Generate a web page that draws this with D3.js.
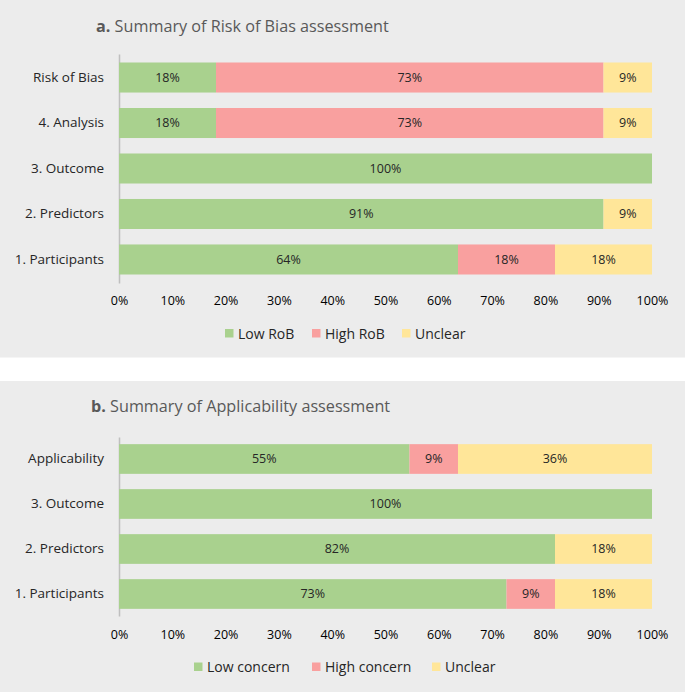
<!DOCTYPE html>
<html>
<head>
<meta charset="utf-8">
<script src="https://cdn.jsdelivr.net/npm/d3@7"></script>
<style>
  html, body { margin: 0; padding: 0; background: #ffffff; }
  svg { display: block; font-family: "Open Sans", sans-serif; }
</style>
</head>
<body>
<svg id="chart" width="685" height="692"></svg>
<script>
// ---- Data ----
const seriesKeys = ["low", "high", "unclear"];
const colors = ["#a9d18e", "#f9a09f", "#ffe699"];

const categoriesA = ["Risk of Bias", "4. Analysis", "3. Outcome", "2. Predictors", "1. Participants"];
const lowA = [18.2, 18.2, 100, 90.9, 63.6];
const highA = [72.7, 72.7, 0, 0, 18.2];
const unclearA = [9.1, 9.1, 0, 9.1, 18.2];
const legendA = ["Low RoB", "High RoB", "Unclear"];

const categoriesB = ["Applicability", "3. Outcome", "2. Predictors", "1. Participants"];
const lowB = [54.5, 100, 81.8, 72.7];
const highB = [9.1, 0, 0, 9.1];
const unclearB = [36.4, 0, 18.2, 18.2];
const legendB = ["Low concern", "High concern", "Unclear"];

const tickValues = [0, 10, 20, 30, 40, 50, 60, 70, 80, 90, 100];

// ---- Drawing ----
const svg = d3.select("#chart");

function panel(cfg) {
  const g = svg.append("g");
  g.append("rect").attr("x", 0).attr("y", cfg.bgTop).attr("width", 685)
    .attr("height", cfg.bgBottom - cfg.bgTop).attr("fill", "#ececec");

  const title = g.append("text").attr("x", cfg.titleX).attr("y", cfg.titleY)
    .attr("font-size", 16.2).attr("fill", "#595959");
  title.append("tspan").attr("font-weight", "bold").text(cfg.letter);
  title.append("tspan").text(" " + cfg.title);

  const rows = cfg.categories.map((c, i) => ({
    cat: c, low: cfg.low[i], high: cfg.high[i], unclear: cfg.unclear[i]
  }));

  const x = d3.scaleLinear().domain([0, 100]).range([119, 652]);
  const y = d3.scaleBand().domain(cfg.categories).range([cfg.axisTop, cfg.axisBottom])
    .paddingInner(0.34).paddingOuter(cfg.padOuter);

  const stack = d3.stack().keys(seriesKeys)(rows);

  // y axis
  const yAxis = g.append("g").attr("transform", "translate(119,0)")
    .call(d3.axisLeft(y).tickSize(0).tickSizeOuter(0).tickPadding(15));
  yAxis.select(".domain").attr("stroke", "#bfbfbf").attr("stroke-width", 1.5);
  yAxis.selectAll("text").attr("font-size", 13.5).attr("fill", "#262626")
    .attr("font-family", "Open Sans, sans-serif");

  // bars
  stack.forEach((layer, li) => {
    g.append("g").selectAll("rect").data(layer.filter(d => d[1] - d[0] > 0)).join("rect")
      .attr("x", d => x(d[0]))
      .attr("y", d => y(d.data.cat))
      .attr("width", d => x(d[1]) - x(d[0]))
      .attr("height", y.bandwidth())
      .attr("fill", colors[li]);
    g.append("g").selectAll("text").data(layer.filter(d => d[1] - d[0] > 0)).join("text")
      .attr("x", d => (x(d[0]) + x(d[1])) / 2)
      .attr("y", d => y(d.data.cat) + y.bandwidth() / 2)
      .attr("dy", "0.35em")
      .attr("text-anchor", "middle")
      .attr("font-size", 12.5)
      .attr("fill", "#262626")
      .text(d => Math.round(d[1] - d[0]) + "%");
  });

  // x axis
  const xAxis = g.append("g").attr("transform", `translate(0,${cfg.tickY})`)
    .call(d3.axisBottom(x).tickValues(tickValues).tickSize(0).tickFormat(d => d + "%"));
  xAxis.select(".domain").remove();
  xAxis.selectAll("text").attr("font-size", 12.5).attr("fill", "#000")
    .attr("font-family", "Open Sans, sans-serif").attr("dy", 0).attr("y", 0);

  // legend
  const lg = g.append("g");
  cfg.legend.forEach((name, i) => {
    lg.append("rect").attr("x", cfg.legendX[i]).attr("y", cfg.legendY - 9.5)
      .attr("width", 8.5).attr("height", 8.5).attr("fill", colors[i]);
    lg.append("text").attr("x", cfg.legendX[i] + 13).attr("y", cfg.legendY)
      .attr("font-size", 14).attr("fill", "#262626").text(name);
  });
}

panel({
  bgTop: 0, bgBottom: 357.5, letter: "a.", title: "Summary of Risk of Bias assessment",
  titleX: 96, titleY: 32,
  categories: categoriesA, low: lowA, high: highA, unclear: unclearA,
  axisTop: 54, axisBottom: 283, padOuter: 0.187, tickY: 305,
  legend: legendA, legendX: [225, 312, 402], legendY: 338.5
});

panel({
  bgTop: 381, bgBottom: 692, letter: "b.", title: "Summary of Applicability assessment",
  titleX: 91, titleY: 412,
  categories: categoriesB, low: lowB, high: highB, unclear: unclearB,
  axisTop: 437, axisBottom: 616, padOuter: 0.159, tickY: 639,
  legend: legendB, legendX: [194, 312, 432], legendY: 672
});
</script>
</body>
</html>
